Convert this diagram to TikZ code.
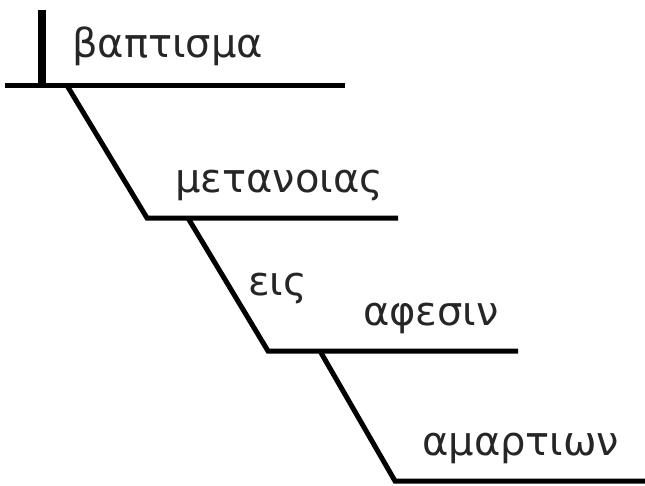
\documentclass[tikz,border=0pt]{standalone}
\usepackage{fontspec}
\newfontfamily\greekfont[Script=Greek]{DejaVu Sans}
\usetikzlibrary{positioning}
\tikzset{
  base/.style  = {line width=5pt, line cap=butt, line join=miter, draw=black},
  tick/.style  = {line width=8pt, line cap=butt, draw=black},
  word/.style  = {font=\greekfont\fontsize{40}{44}\selectfont, anchor=base west, inner sep=0pt, text=black!85},
}

\begin{document}
\begin{tikzpicture}[x=1pt,y=-1pt]
  \useasboundingbox (0,0) rectangle (645,485);

  % base lines and slants
  \coordinate (l1w) at (5,85.5);   \coordinate (l1e) at (345,85.5);
  \coordinate (t1)  at (41.5,10);  \coordinate (t1b) at (41.5,85.5);
  \coordinate (s1a) at (67,85.5);  \coordinate (s1b) at (147,218);
  \coordinate (l2e) at (398,218);
  \coordinate (s2a) at (188,218); \coordinate (s2b) at (268,351);
  \coordinate (l3e) at (518,351);
  \coordinate (s3a) at (320,351); \coordinate (s3b) at (395,481);
  \coordinate (l4e) at (645,481);

  \draw[base] (l1w) -- (l1e);
  \draw[tick] (t1) -- (t1b);
  \draw[base] (s1a) -- (s1b) -- (l2e);
  \draw[base] (s2a) -- (s2b) -- (l3e);
  \draw[base] (s3a) -- (s3b) -- (l4e);

  % words
  \node[word] (baptisma)   at (72,57)  {βαπτισμα};
  \node[word] (metanoias)  at (175,192) {μετανοιας};
  \node[word] (eis)        at (248,295) {εις};
  \node[word] (aphesin)    at (363,325) {αφεσιν};
  \node[word] (hamartion)  at (422,455) {αμαρτιων};
\end{tikzpicture}
\end{document}
